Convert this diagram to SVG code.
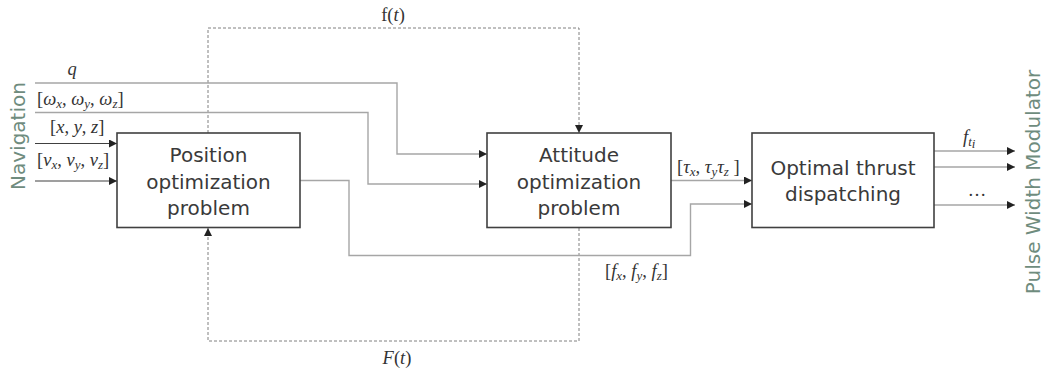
<svg xmlns="http://www.w3.org/2000/svg" width="1048" height="372" viewBox="0 0 1048 372">
<defs>
<marker id="ah" viewBox="0 0 10 10" refX="10" refY="5" markerWidth="8" markerHeight="8" markerUnits="userSpaceOnUse" orient="auto">
<path d="M0,0 L10,5 L0,10 z" fill="#222"/>
</marker>
<style>
.box{fill:#fff;stroke:#404040;stroke-width:1.6}
.lbl{font-family:"DejaVu Sans",Verdana,sans-serif;font-size:20px;fill:#3a3a3a;text-anchor:middle}
.side{font-family:"DejaVu Sans",Verdana,sans-serif;font-size:20px;fill:#6f8c7e;text-anchor:middle}
.math{font-family:"Liberation Serif","Times New Roman",serif;font-size:18.5px;fill:#333}
.it{font-style:italic}
.sub{font-size:13px;font-style:italic}
.g{fill:none;stroke:#a6a6a6;stroke-width:1.4}
.d{fill:none;stroke:#404040;stroke-width:1.2}
.dot{fill:none;stroke:#808080;stroke-width:1;stroke-dasharray:3 2}
</style>
</defs>
<rect width="1048" height="372" fill="#fff"/>

<g id="connectors">
<path class="dot" d="M208,133 V28 H579 V133" marker-end="url(#ah)"/>
<path class="dot" d="M579,228 V341 H208 V228" marker-end="url(#ah)"/>
<path class="g" d="M35,83 H397 V154 H487" marker-end="url(#ah)"/>
<path class="g" d="M35,112.5 H368 V184 H487" marker-end="url(#ah)"/>
<path class="d" d="M35,143.5 H117" marker-end="url(#ah)"/>
<path class="d" d="M35,181 H117" marker-end="url(#ah)"/>
<path class="g" d="M300,180.5 H349 V255.5 H690.5 V204 H752" marker-end="url(#ah)"/>
<path class="g" d="M671,180.5 H752" marker-end="url(#ah)"/>
<path class="g" d="M934,151 H1015" marker-end="url(#ah)"/>
<path class="g" d="M934,167 H1015" marker-end="url(#ah)"/>
<path class="g" d="M934,205 H1015" marker-end="url(#ah)"/>
</g>

<g id="position">
<rect class="box" x="117" y="133" width="183" height="94.5"/>
<text class="lbl" x="208.5" y="162">Position</text>
<text class="lbl" x="208.5" y="188.5">optimization</text>
<text class="lbl" x="208.5" y="215">problem</text>
</g>

<g id="attitude">
<rect class="box" x="487" y="133" width="184" height="94.5"/>
<text class="lbl" x="579" y="162">Attitude</text>
<text class="lbl" x="579" y="188.5">optimization</text>
<text class="lbl" x="579" y="215">problem</text>
</g>

<g id="thrust">
<rect class="box" x="752" y="133" width="182" height="94.5"/>
<text class="lbl" x="843" y="175">Optimal thrust</text>
<text class="lbl" x="843" y="200.5">dispatching</text>
</g>

<g id="navigation">
<text class="side" transform="translate(25,136) rotate(-90)">Navigation</text>
</g>
<g id="pwm">
<text class="side" transform="translate(1040,182) rotate(-90)">Pulse Width Modulator</text>
</g>

<g id="labels">
<text class="math it" x="72" y="75" text-anchor="middle">q</text>
<text class="math" x="37" y="105">[<tspan class="it">ω</tspan><tspan class="sub" dy="3">x</tspan><tspan dy="-3">, </tspan><tspan class="it">ω</tspan><tspan class="sub" dy="3">y</tspan><tspan dy="-3">, </tspan><tspan class="it">ω</tspan><tspan class="sub" dy="3">z</tspan><tspan dy="-3">]</tspan></text>
<text class="math" x="50" y="133">[<tspan class="it">x</tspan>, <tspan class="it">y</tspan>, <tspan class="it">z</tspan>]</text>
<text class="math" x="37" y="166">[<tspan class="it">v</tspan><tspan class="sub" dy="3">x</tspan><tspan dy="-3">, </tspan><tspan class="it">v</tspan><tspan class="sub" dy="3">y</tspan><tspan dy="-3">, </tspan><tspan class="it">v</tspan><tspan class="sub" dy="3">z</tspan><tspan dy="-3">]</tspan></text>
<text class="math" x="393" y="21" text-anchor="middle">f(<tspan class="it">t</tspan>)</text>
<text class="math" x="397" y="364" text-anchor="middle"><tspan class="it">F</tspan>(<tspan class="it">t</tspan>)</text>
<text class="math" x="677" y="173">[<tspan class="it">τ</tspan><tspan class="sub" dy="3">x</tspan><tspan dy="-3">, </tspan><tspan class="it">τ</tspan><tspan class="sub" dy="3">y</tspan><tspan class="it" dy="-3">τ</tspan><tspan class="sub" dy="3">z</tspan><tspan dy="-3"> ]</tspan></text>
<text class="math" x="605" y="277">[<tspan class="it">f</tspan><tspan class="sub" dy="3">x</tspan><tspan dy="-3">, </tspan><tspan class="it">f</tspan><tspan class="sub" dy="3">y</tspan><tspan dy="-3">, </tspan><tspan class="it">f</tspan><tspan class="sub" dy="3">z</tspan><tspan dy="-3">]</tspan></text>
<text class="math" x="963" y="143"><tspan class="it">f</tspan><tspan class="sub" dy="3">t</tspan><tspan class="sub" dy="2" font-size="10">i</tspan></text>
<text class="math" x="977" y="196" text-anchor="middle">…</text>
</g>
</svg>
